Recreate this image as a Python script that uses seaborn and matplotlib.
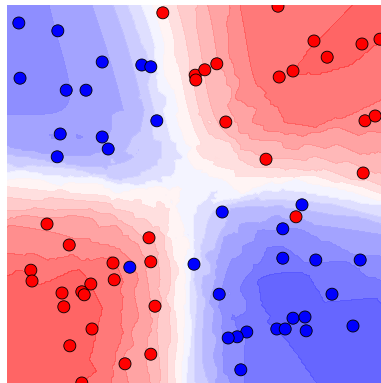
import numpy as np
import pandas as pd
import matplotlib
matplotlib.use("Agg")
import matplotlib.pyplot as plt
import seaborn as sns

# blue class (label 0)
blue_x = [-2.92, -2.27, -1.53, -0.87, -0.72, -2.90, -2.13, -1.80, -0.62, -2.23, -1.53,
          -1.43, -2.28, -1.07, 0.47, 1.80, 1.48, 1.48, 2.03, 2.77, 0.00, 0.42, 2.30,
          1.65, 1.85, 1.38, 1.52, 1.87, 2.65, 0.88, 0.72, 0.57, 0.78]
blue_y = [2.85, 2.72, 2.20, 2.15, 2.12, 1.93, 1.73, 1.73, 1.22, 1.00, 0.95,
          0.75, 0.62, -1.22, -0.30, -0.18, -0.58, -1.07, -1.10, -1.10, -1.17, -1.67, -1.67,
          -2.07, -2.05, -2.25, -2.25, -2.28, -2.20, -2.30, -2.38, -2.40, -2.93]

# red class (label 1)
red_x = [-0.52, 0.02, 0.03, 0.18, 0.38, 1.40, 2.00, 2.80, 3.10, 2.22, 1.65, 1.42,
         0.53, 2.85, 3.02, 1.20, 2.82, 1.70, -2.45, -2.08, -0.75, -2.72, -2.70, -1.35,
         -0.72, -1.33, -1.72, -2.20, -1.87, -1.83, -2.17, -0.65, -1.70, -2.07, -0.72,
         -1.15, -1.87]
red_y = [3.02, 1.98, 1.90, 2.07, 2.17, 3.13, 2.55, 2.50, 2.58, 2.28, 2.05, 1.95,
         1.20, 1.22, 1.30, 0.58, 0.35, -0.38, -0.50, -0.85, -0.73, -1.27, -1.45, -1.15,
         -1.13, -1.43, -1.50, -1.65, -1.63, -1.68, -1.88, -1.87, -2.25, -2.53, -2.67,
         -2.83, -3.15]

df = pd.DataFrame({
    "x": blue_x + red_x,
    "y": blue_y + red_y,
    "label": ["blue"] * len(blue_x) + ["red"] * len(red_x),
})

X = df[["x", "y"]].to_numpy()
lab = (df["label"] == "red").to_numpy().astype(float)

# probability surface: mix of k-nearest-neighbour vote and a kernel average
xlim = (-3.117, 3.117)
ylim = (-3.15, 3.15)
gx, gy = np.meshgrid(np.linspace(xlim[0], xlim[1], 220), np.linspace(ylim[0], ylim[1], 220))
grid = np.c_[gx.ravel(), gy.ravel()]
d = np.sqrt(((grid[:, None, :] - X[None, :, :]) ** 2).sum(-1))
idx = np.argsort(d, axis=1)[:, :20]
p_knn = lab[idx].mean(axis=1)
w = np.exp(-0.5 * (d / 0.8) ** 2)
p_ker = (w * lab).sum(1) / w.sum(1)
prob = 0.5 * p_knn + 0.5 * p_ker
prob = 0.5 + (prob - 0.5) * 0.8
prob = prob.reshape(gx.shape)

fig = plt.figure(figsize=(3.81, 3.83), dpi=100)
ax = fig.add_axes([7 / 381, 0, 374 / 381, 378 / 383])
ax.contourf(gx, gy, prob, levels=np.linspace(0, 1, 21), cmap="bwr", alpha=0.8)
sns.scatterplot(data=df, x="x", y="y", hue="label",
                palette={"blue": "#0000FF", "red": "#FF0000"},
                s=75, edgecolor="black", linewidth=0.6, legend=False, ax=ax)
ax.set_xlim(*xlim)
ax.set_ylim(*ylim)
ax.set_axis_off()

fig.savefig("out.png", dpi=100)
